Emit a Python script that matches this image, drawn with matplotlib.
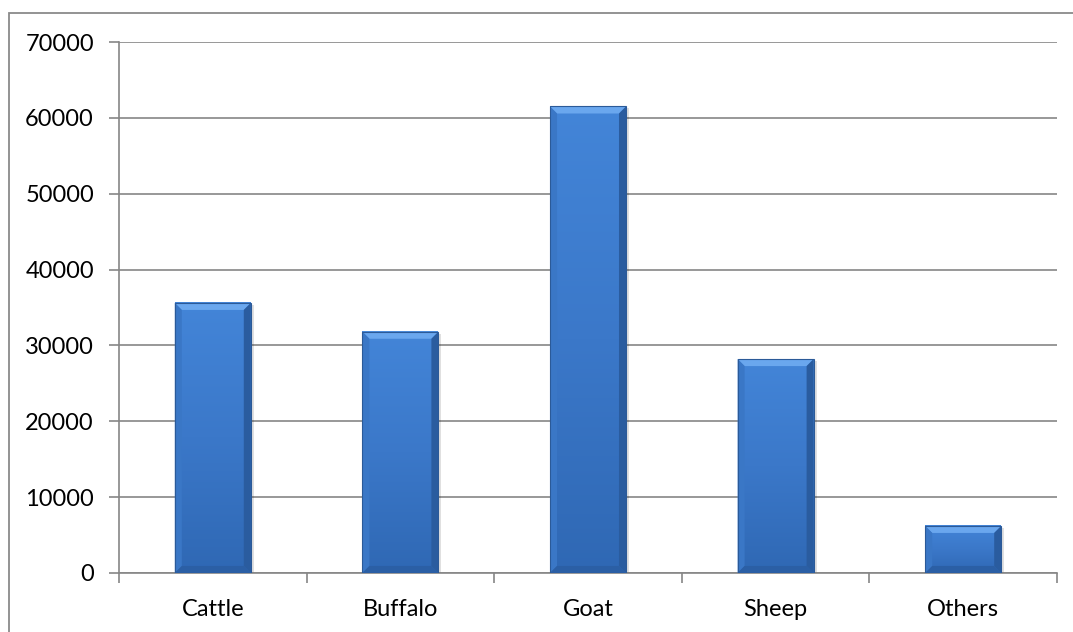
import numpy as np
import matplotlib.pyplot as plt
from matplotlib.patches import Polygon, Rectangle
from matplotlib.colors import LinearSegmentedColormap

categories = ['Cattle', 'Buffalo', 'Goat', 'Sheep', 'Others']
values = [35600, 31800, 61500, 28200, 6200]

plt.rcParams['font.family'] = ['Lato', 'DejaVu Sans']

grid_color = '#868686'
fig = plt.figure(figsize=(10.73, 6.32), dpi=100)
ax = fig.add_axes([0.1109, 0.0934, 0.8742, 0.8401])

x = np.arange(len(categories))
bar_w = 0.405
ax.set_xlim(-0.5, len(categories) - 0.5)
ax.set_ylim(0, 70000)

# bevel size in data units (about 7 px)
px_x = (len(categories)) / (0.8742 * 1073)
px_y = 70000 / (0.8401 * 632)
bx, by = 7 * px_x, 7 * px_y

face = LinearSegmentedColormap.from_list('face', ['#2f68b4', '#3b78c9', '#4385d8'])
grad = np.linspace(0, 1, 256).reshape(-1, 1)

for xi, v in zip(x, values):
    l, r = xi - bar_w / 2, xi + bar_w / 2
    # soft shadow on the right
    ax.add_patch(Rectangle((l + 3 * px_x, 0), bar_w, v - 2 * px_y,
                           color='#000000', alpha=0.12, lw=0, zorder=2))
    ax.imshow(grad, extent=(l, r, 0, v), origin='lower', aspect='auto',
              cmap=face, zorder=3)
    ax.add_patch(Polygon([(l, v), (r, v), (r - bx, v - by), (l + bx, v - by)],
                         closed=True, color='#6aa7ee', lw=0, zorder=4))
    ax.add_patch(Polygon([(l, 0), (l, v), (l + bx, v - by), (l + bx, by)],
                         closed=True, color='#3a77c6', lw=0, zorder=4))
    ax.add_patch(Polygon([(r, 0), (r, v), (r - bx, v - by), (r - bx, by)],
                         closed=True, color='#2a5c9f', lw=0, zorder=4))
    ax.add_patch(Polygon([(l, 0), (r, 0), (r - bx, by), (l + bx, by)],
                         closed=True, color='#2b5fa5', lw=0, zorder=4))
    ax.add_patch(Rectangle((l, 0), bar_w, v, fill=False, ec='#2b5a98',
                           lw=0.8, zorder=5))

ax.set_xlim(-0.5, len(categories) - 0.5)
ax.set_ylim(0, 70000)

ax.set_yticks(np.arange(0, 70001, 10000))
ax.yaxis.grid(True, color=grid_color, lw=1.2, zorder=0)
ax.set_axisbelow(True)

ax.set_xticks(np.arange(-0.5, len(categories), 1.0))
ax.set_xticklabels([])
ax.set_xticks(x, minor=True)
ax.set_xticklabels(categories, minor=True)

ax.tick_params(axis='y', length=7, width=1.2, color=grid_color,
               labelsize=17, pad=11)
ax.tick_params(axis='x', which='major', length=7, width=1.2, color=grid_color)
ax.tick_params(axis='x', which='minor', length=0, labelsize=17, pad=19)

for s in ['top', 'right']:
    ax.spines[s].set_visible(False)
for s in ['left', 'bottom']:
    ax.spines[s].set_color(grid_color)
    ax.spines[s].set_linewidth(1.2)

fig.patches.append(Rectangle((9 / 1073, -0.1), 1.2, 1 - 13 / 632 + 0.1,
                             transform=fig.transFigure, fill=False,
                             ec='#8a8a8a', lw=1.3))

fig.savefig('out.png', dpi=100)
